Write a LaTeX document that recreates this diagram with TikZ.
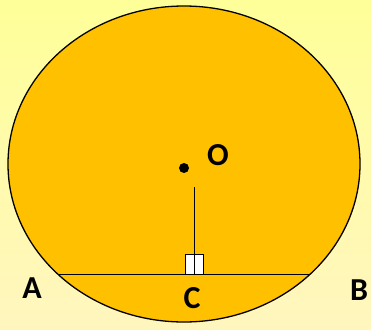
\documentclass[tikz,border=0pt]{standalone}
\usepackage{fontspec}
\setmainfont{Carlito}
\definecolor{bgtop}{RGB}{255,255,153}
\definecolor{bgbot}{RGB}{255,246,190}
\definecolor{disk}{RGB}{255,192,0}
\tikzset{
  lbl/.style={font=\fontsize{32}{34}\selectfont\bfseries, inner sep=0pt},
  edge/.style={draw=black, line width=1.3pt},
}
\begin{document}
\begin{tikzpicture}[x=1pt,y=-1pt]
\useasboundingbox (0,0) rectangle (371,329);
\shade[top color=bgtop, bottom color=bgbot] (0,0) rectangle (371,329);
\draw[fill=disk, line width=1.3pt] (184,164) ellipse [x radius=176, y radius=158];
\coordinate (A0) at (58,274.5);
\coordinate (B0) at (310,274.5);
\draw[edge] (A0) -- (B0);
\node[draw=black, fill=white, line width=1pt, minimum width=18pt, minimum height=20pt, inner sep=0pt] (sq) at (194.5,264.5) {};
\coordinate (top) at (194.5,187);
\draw[edge] (top) -- (194.5,274.5);
\fill (184,168) circle [radius=5];
\node[lbl] (O) at (218,155) {O};
\node[lbl] (C) at (192,298) {C};
\node[lbl] (A) at (32,288) {A};
\node[lbl] (B) at (359,290) {B};
\end{tikzpicture}
\end{document}
